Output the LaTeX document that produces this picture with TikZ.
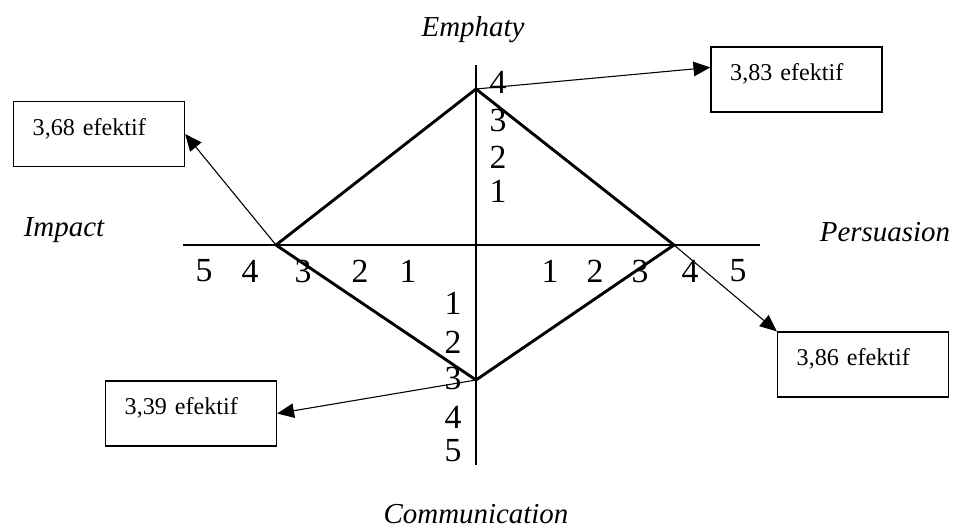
\documentclass[tikz,border=0pt]{standalone}
\usepackage{fontspec}
\setmainfont{Liberation Serif}
\usetikzlibrary{arrows.meta}

\tikzset{
  axis/.style={line width=0.8pt},
  edge/.style={line width=1.2pt, line join=miter},
  pointer/.style={line width=0.45pt, ->},
  scorebox/.style={draw, line width=0.5pt, minimum width=71pt, minimum height=27pt,
    text width=55pt, align=left, inner xsep=8pt, inner ysep=0pt,
    text height=14pt, text depth=13pt, font=\fontsize{10}{12}\selectfont},
  tick/.style={font=\fontsize{14}{16}\selectfont, inner sep=0pt},
  dimlabel/.style={font=\fontsize{12}{14}\selectfont\itshape}
}

\begin{document}
\begin{tikzpicture}[x=0.415pt, y=-0.415pt, >={Triangle[length=7pt,width=6pt]}]
  \useasboundingbox (0,0) rectangle (955,531);

  % axes
  \coordinate (top) at (476,65);
  \coordinate (bottom) at (476,465);
  \coordinate (left) at (183,245);
  \coordinate (right) at (760,245);
  \draw[axis] (top) -- (bottom);
  \draw[axis] (left) -- (right);

  % dimension names
  \node[dimlabel] (emphaty) at (473,30) {Emphaty};
  \node[dimlabel] (impact) at (64,230) {Impact};
  \node[dimlabel] (persuasion) at (885,232) {Persuasion};
  \node[dimlabel] (communication) at (476,514) {Communication};

  % scale numbers
  \node[tick] (e4) at (498,82) {4};
  \node[tick] (e3) at (498,120) {3};
  \node[tick] (e2) at (498,157) {2};
  \node[tick] (e1) at (498,191) {1};

  \node[tick] (i5) at (204,271) {5};
  \node[tick] (i4) at (250,271) {4};
  \node[tick] (i3) at (303,271) {3};
  \node[tick] (i2) at (360,271) {2};
  \node[tick] (i1) at (408,271) {1};

  \node[tick] (p1) at (550,271) {1};
  \node[tick] (p2) at (595,271) {2};
  \node[tick] (p3) at (640,271) {3};
  \node[tick] (p4) at (690,271) {4};
  \node[tick] (p5) at (738,271) {5};

  \node[tick] (c1) at (453,303) {1};
  \node[tick] (c2) at (453,342) {2};
  \node[tick] (c3) at (453,378) {3};
  \node[tick] (c4) at (453,417) {4};
  \node[tick] (c5) at (453,451) {5};

  % scores
  \coordinate (E) at (476,89);
  \coordinate (P) at (674,245);
  \coordinate (C) at (476,380);
  \coordinate (I) at (276,245);
  \draw[edge] (E) -- (P) -- (C) -- (I) -- cycle;

  \node[scorebox] (b383) at (796.5,79.5) {3,83 efektif};
  \node[scorebox] (b368) at (99,134) {3,68 efektif};
  \node[scorebox] (b386) at (863,364.5) {3,86 efektif};
  \node[scorebox] (b339) at (191,413.5) {3,39 efektif};

  \draw[pointer] (E) -- (b383.172);
  \draw[pointer] (I) -- (b368.east);
  \draw[pointer] (P) -- (b386.north west);
  \draw[pointer] (C) -- (b339.east);
\end{tikzpicture}
\end{document}
